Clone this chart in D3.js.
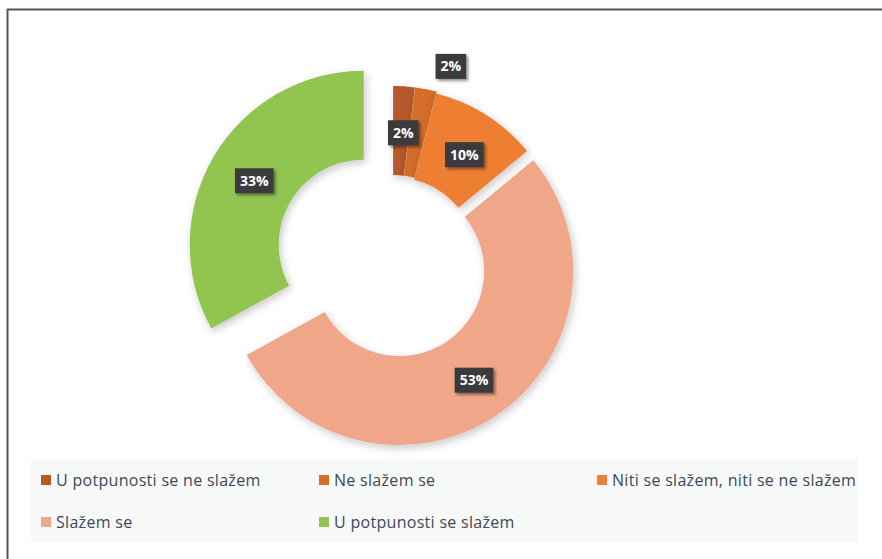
<!DOCTYPE html>
<html lang="hr">
<head>
<meta charset="UTF-8">
<title>Donut chart</title>
<script src="https://cdn.jsdelivr.net/npm/d3@7"></script>
<style>
  body { margin: 0; background: #fff; }
  svg text { font-family: "Open Sans", sans-serif; }
</style>
</head>
<body>
<svg id="chart" width="882" height="559"></svg>
<script>
  // data
  const categories = [
    "U potpunosti se ne slažem",
    "Ne slažem se",
    "Niti se slažem, niti se ne slažem",
    "Slažem se",
    "U potpunosti se slažem"
  ];
  const values = [2, 2, 10, 53, 33];
  const pctLabels = ["2%", "2%", "10%", "53%", "33%"];

  // style
  const colors = ["#b5582a", "#d46c2a", "#ee7e32", "#f0a688", "#92c54f"];
  const explode = [2, 2, 0, 11, 34];
  const labelOutside = [false, true, false, false, false];

  const width = 882, height = 559;
  const cx = 393, cy = 262;
  const outerR = 174, innerR = 85;

  const svg = d3.select("#chart");

  const defs = svg.append("defs");
  defs.append("filter").attr("id", "shadow")
    .attr("x", "-20%").attr("y", "-20%").attr("width", "140%").attr("height", "140%")
    .append("feDropShadow")
    .attr("dx", 2).attr("dy", 3).attr("stdDeviation", 4)
    .attr("flood-color", "#000").attr("flood-opacity", 0.22);
  defs.append("filter").attr("id", "lblShadow")
    .attr("x", "-30%").attr("y", "-30%").attr("width", "160%").attr("height", "160%")
    .append("feDropShadow")
    .attr("dx", 2).attr("dy", 2).attr("stdDeviation", 1.5)
    .attr("flood-color", "#000").attr("flood-opacity", 0.45);

  // frame (only top and left edges show)
  svg.append("line").attr("x1", 7).attr("x2", width).attr("y1", 9.5).attr("y2", 9.5)
    .attr("stroke", "#555").attr("stroke-width", 2);
  svg.append("line").attr("x1", 7.5).attr("x2", 7.5).attr("y1", 9).attr("y2", height)
    .attr("stroke", "#555").attr("stroke-width", 2);

  const pie = d3.pie().sort(null).value(d => d)(values);
  const arc = d3.arc().innerRadius(innerR).outerRadius(outerR);

  const g = svg.append("g").attr("transform", `translate(${cx},${cy})`);

  const offset = (d, i) => {
    const a = (d.startAngle + d.endAngle) / 2;
    return [Math.sin(a) * explode[i], -Math.cos(a) * explode[i]];
  };

  g.selectAll("path.slice")
    .data(pie)
    .join("path")
    .attr("class", "slice")
    .attr("d", arc)
    .attr("fill", (d, i) => colors[i])
    .attr("filter", "url(#shadow)")
    .attr("transform", (d, i) => `translate(${offset(d, i)})`);

  // data labels
  const labelPos = (d, i) => {
    const [ox, oy] = offset(d, i);
    if (labelOutside[i]) {
      const a = (d.startAngle + d.endAngle) / 2 + 0.1;
      const r = outerR + 28;
      return [Math.sin(a) * r + ox, -Math.cos(a) * r + oy];
    }
    const [x, y] = arc.centroid(d);
    return [x + ox + 2, y + oy + 2];
  };

  const lbl = g.selectAll("g.lbl")
    .data(pie)
    .join("g")
    .attr("class", "lbl")
    .attr("transform", (d, i) => `translate(${labelPos(d, i)})`);

  lbl.append("text")
    .attr("text-anchor", "middle")
    .attr("dy", "0.36em")
    .attr("fill", "#fff")
    .attr("font-weight", "bold")
    .attr("font-size", 14)
    .text((d, i) => pctLabels[i]);

  lbl.each(function () {
    const t = d3.select(this).select("text");
    const w = t.node().getComputedTextLength();
    d3.select(this).insert("rect", "text")
      .attr("x", -w / 2 - 5).attr("y", -12.5)
      .attr("width", w + 10).attr("height", 25)
      .attr("fill", "#3a3b3d")
      .attr("filter", "url(#lblShadow)");
  });

  // legend
  svg.append("rect")
    .attr("x", 31).attr("y", 459).attr("width", 827).attr("height", 83)
    .attr("fill", "#f7f9f9");

  const colX = d3.scaleOrdinal().domain([0, 1, 2]).range([41, 319, 597]);
  const rowY = d3.scaleOrdinal().domain([0, 1]).range([480, 522]);

  const leg = svg.append("g").selectAll("g")
    .data(categories)
    .join("g")
    .attr("transform", (d, i) => `translate(${colX(i % 3)},${rowY(Math.floor(i / 3))})`);

  leg.append("rect")
    .attr("x", 0).attr("y", -5).attr("width", 10).attr("height", 10)
    .attr("fill", (d, i) => colors[i]);

  leg.append("text")
    .attr("x", 15)
    .attr("dy", "0.35em")
    .attr("font-size", 16)
    .attr("letter-spacing", 0.3)
    .attr("fill", "#3f4756")
    .text(d => d);
</script>
</body>
</html>
